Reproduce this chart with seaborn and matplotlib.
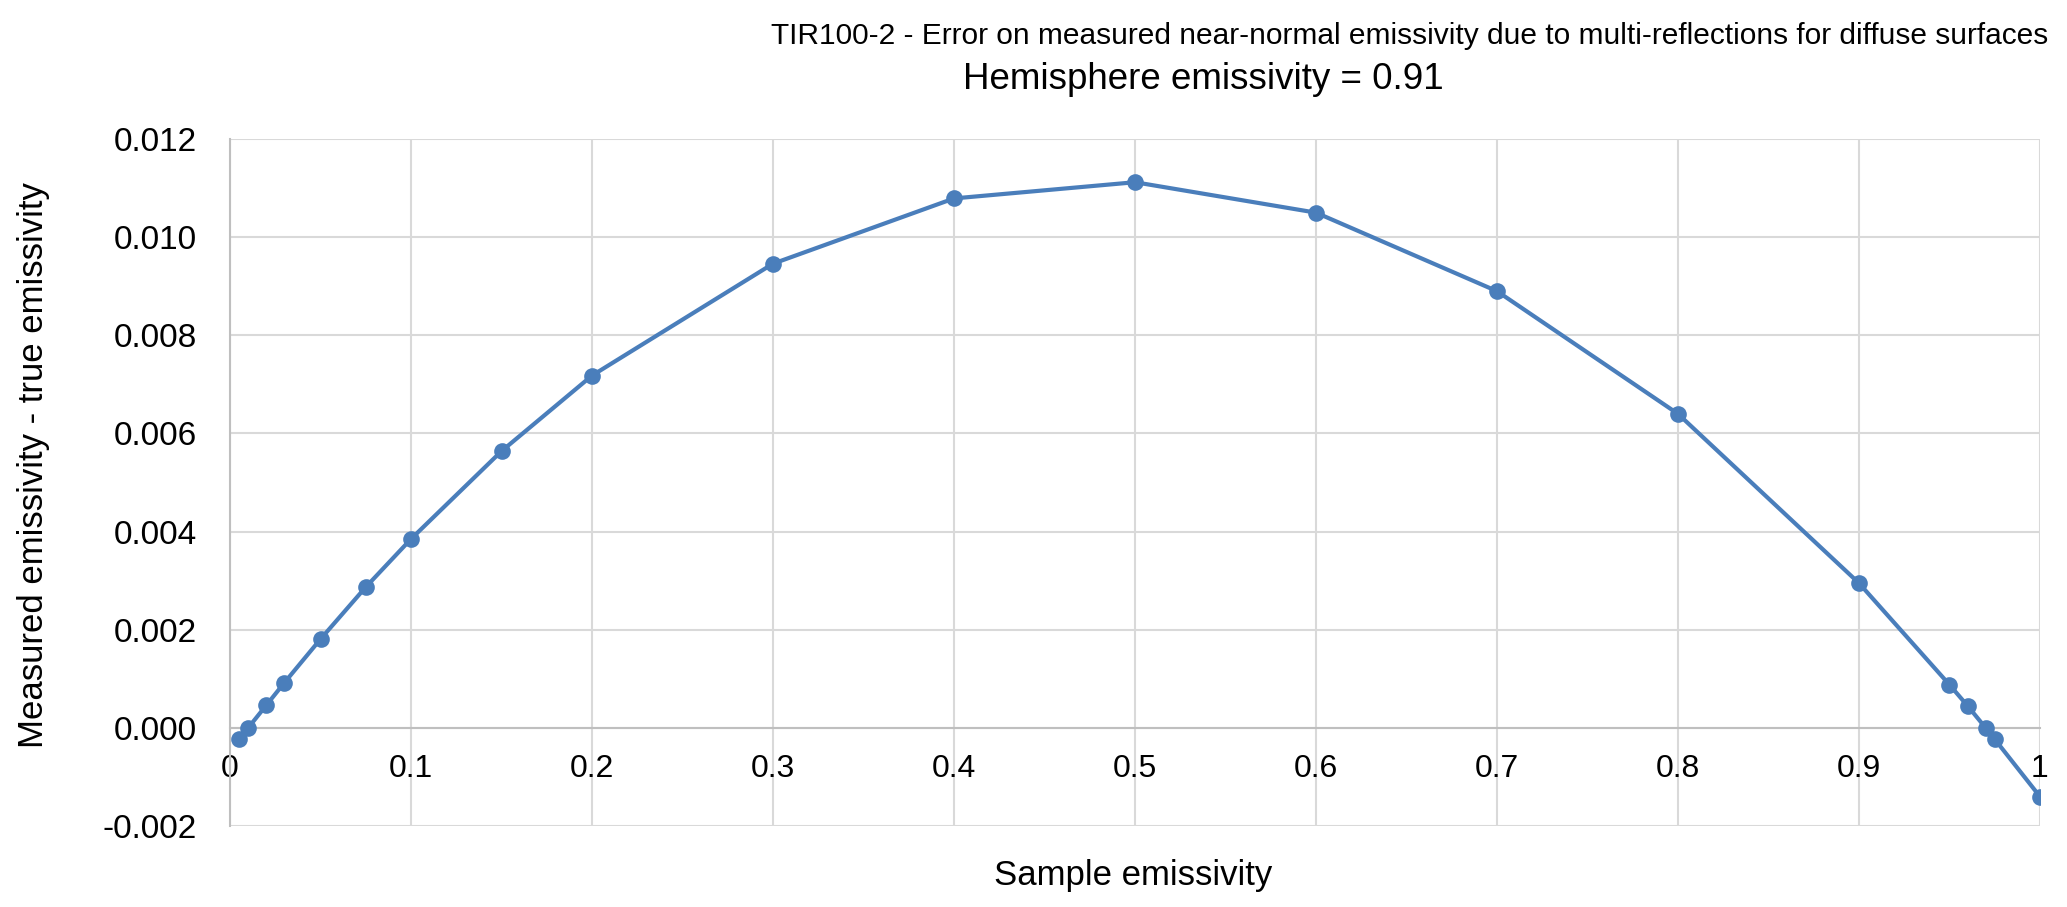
import numpy as np
import pandas as pd
import matplotlib
matplotlib.use('Agg')
import matplotlib.pyplot as plt
from matplotlib.ticker import FuncFormatter, MultipleLocator
import seaborn as sns

# values
sample_emissivity = [0.005, 0.01, 0.02, 0.03, 0.05, 0.075, 0.1, 0.15, 0.2, 0.3, 0.4,
                     0.5, 0.6, 0.7, 0.8, 0.9, 0.95, 0.96, 0.97, 0.975, 1.0]
emissivity_error = [-0.00023, 0.00000, 0.00046, 0.00092, 0.00181, 0.00287, 0.00385,
                    0.00564, 0.00718, 0.00946, 0.01079, 0.01112, 0.01050, 0.00890,
                    0.00640, 0.00295, 0.00088, 0.00045, 0.00000, -0.00023, -0.00140]

title_line1 = 'TIR100-2 - Error on measured near-normal emissivity due to multi-reflections for diffuse surfaces'
title_line2 = 'Hemisphere emissivity = 0.91'

df = pd.DataFrame({'sample': sample_emissivity, 'error': emissivity_error})

sns.set_style('white')
plt.rcParams['font.family'] = ['Liberation Sans', 'DejaVu Sans']
plt.rcParams['axes.unicode_minus'] = False
plt.rcParams['text.color'] = 'black'
plt.rcParams['xtick.color'] = 'black'
plt.rcParams['ytick.color'] = 'black'

fig = plt.figure(figsize=(20.67, 9.07), dpi=100)
ax = fig.add_axes([0.1113, 0.0893, 0.8756, 0.7574])

sns.lineplot(data=df, x='sample', y='error', ax=ax, color='#4a7ebb', linewidth=3,
             marker='o', markersize=12, markeredgewidth=0, zorder=3)

ax.set_xlim(0, 1)
ax.set_ylim(-0.002, 0.012)
ax.xaxis.set_major_locator(MultipleLocator(0.1))
ax.yaxis.set_major_locator(MultipleLocator(0.002))
ax.xaxis.set_major_formatter(FuncFormatter(lambda v, p: f'{v:g}'))
ax.yaxis.set_major_formatter(FuncFormatter(lambda v, p: f'{v:.3f}'))
ax.grid(True, color='#d9d9d9', linewidth=1.5, zorder=0)
ax.set_axisbelow(True)

for s in ['top', 'right']:
    ax.spines[s].set_visible(False)
ax.spines['left'].set_color('#bfbfbf')
ax.spines['left'].set_linewidth(1.5)
ax.spines['bottom'].set_position(('data', 0))
ax.spines['bottom'].set_color('#bfbfbf')
ax.spines['bottom'].set_linewidth(1.5)

ax.tick_params(axis='x', length=0, labelsize=23, pad=19)
ax.tick_params(axis='y', length=0, labelsize=24, pad=24)

ax.set_xlabel('')
ax.set_ylabel('')
fig.text(0.548, 0.035, 'Sample emissivity', ha='center', va='center', fontsize=25)
fig.text(0.016, 0.487, 'Measured emissivity - true emissivity', ha='center', va='center',
         rotation=90, fontsize=25)

fig.text(0.991, 0.960, title_line1, ha='right', va='center', fontsize=21.5)
fig.text(0.582, 0.912, title_line2, ha='center', va='center', fontsize=26.5)

fig.savefig('out.png', dpi=100)
